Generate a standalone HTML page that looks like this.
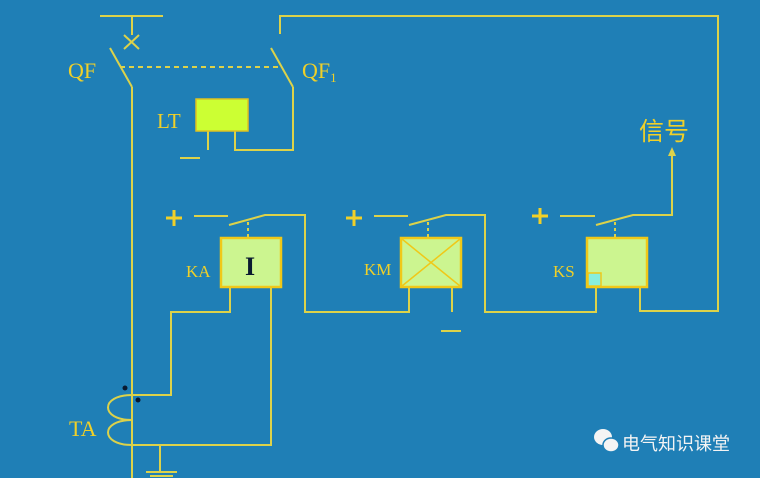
<!DOCTYPE html>
<html><head><meta charset="utf-8"><style>
html,body{margin:0;padding:0;background:#1f7fb6;}
svg{display:block}
</style></head><body>
<svg width="760" height="478" viewBox="0 0 760 478" xmlns="http://www.w3.org/2000/svg">
<rect width="760" height="478" fill="#1f7fb6"/>
<g stroke="#dcd24a" stroke-width="2" fill="none">
<line x1="100" y1="16" x2="163" y2="16"/>
<line x1="132" y1="16" x2="132" y2="35"/>
<line x1="124" y1="35" x2="139" y2="49"/><line x1="139" y1="35" x2="124" y2="49"/>
<line x1="110" y1="48" x2="132" y2="87"/>
<line x1="132" y1="87" x2="132" y2="478"/>
<line x1="120" y1="67" x2="282" y2="67" stroke-dasharray="5,4"/>
<polyline points="280,34 280,16 718,16 718,311 640,311 640,287"/>
<line x1="271" y1="48" x2="293" y2="87"/>
<polyline points="293,87 293,150 235,150 235,131"/>
<line x1="208" y1="131" x2="208" y2="150"/>
<line x1="180" y1="158" x2="200" y2="158"/>
<line x1="194" y1="216" x2="228" y2="216"/>
<polyline points="229,225 265,215 305,215 305,312 409,312 409,287"/>
<line x1="248" y1="222" x2="248" y2="238" stroke-dasharray="3,3"/>
<polyline points="230,287 230,312 171,312 171,395 132,395"/>
<polyline points="271,287 271,445 132,445"/>
<line x1="374" y1="216" x2="408" y2="216"/>
<polyline points="409,225 446,215 485,215 485,312 596,312 596,287"/>
<line x1="428" y1="222" x2="428" y2="238" stroke-dasharray="3,3"/>
<line x1="452" y1="287" x2="452" y2="312"/>
<line x1="441" y1="331" x2="461" y2="331"/>
<line x1="560" y1="216" x2="595" y2="216"/>
<polyline points="596,225 633,215 672,215 672,155"/>
<line x1="615" y1="222" x2="615" y2="238" stroke-dasharray="3,3"/>
<path d="M132,395 C100,395 100,420 132,420 C100,420 100,445 132,445"/>
<line x1="160" y1="445" x2="160" y2="472"/>
<line x1="146" y1="472" x2="177" y2="472"/>
<line x1="150" y1="476" x2="173" y2="476"/>
</g>
<g stroke="#f0d028" stroke-width="3">
<line x1="166" y1="218" x2="182" y2="218"/><line x1="174" y1="210" x2="174" y2="226"/>
<line x1="346" y1="218" x2="362" y2="218"/><line x1="354" y1="210" x2="354" y2="226"/>
<line x1="532" y1="216" x2="548" y2="216"/><line x1="540" y1="208" x2="540" y2="224"/>
</g>
<polygon points="672,147 668,156 676,156" fill="#dcd24a"/>
<circle cx="125" cy="388" r="2.5" fill="#0a1a30"/>
<circle cx="138" cy="400" r="2.5" fill="#0a1a30"/>
<rect x="196" y="99" width="52" height="32" fill="#ccff33" stroke="#e0c020" stroke-width="1.5"/>
<rect x="221" y="238" width="60" height="49" fill="#ccf590" stroke="#f0c818" stroke-width="2.5"/>
<rect x="401" y="238" width="60" height="49" fill="#ccf590" stroke="#f0c818" stroke-width="2.5"/>
<line x1="402" y1="239" x2="460" y2="286" stroke="#f0c818" stroke-width="1.5"/>
<line x1="460" y1="239" x2="402" y2="286" stroke="#f0c818" stroke-width="1.5"/>
<rect x="587" y="238" width="60" height="49" fill="#ccf590" stroke="#f0c818" stroke-width="2.5"/>
<rect x="588" y="273" width="13" height="13" fill="#88eedd" stroke="#f0c818" stroke-width="1.5"/>
<text x="250" y="275" font-family="Liberation Serif, serif" font-weight="bold" font-size="26" fill="#0a1a30" text-anchor="middle">I</text>
<g font-family="Liberation Serif, serif" fill="#f0d028">
<text x="68" y="78" font-size="22">QF</text>
<text x="302" y="78" font-size="22">QF<tspan font-size="13" dy="4">1</tspan></text>
<text x="157" y="128" font-size="21">LT</text>
<text x="186" y="277" font-size="17">KA</text>
<text x="364" y="275" font-size="17">KM</text>
<text x="553" y="277" font-size="17">KS</text>
<text x="69" y="436" font-size="22">TA</text>
</g>
<text x="639" y="140" font-family="Liberation Sans, Noto Sans CJK SC, sans-serif" font-size="25" fill="#f0d028">信号</text>
<ellipse cx="603" cy="437" rx="9" ry="8" fill="#f4f4f4"/>
<ellipse cx="611" cy="445" rx="8" ry="7" fill="#f4f4f4" stroke="#1f7fb6" stroke-width="1.5"/>
<text x="622" y="450" font-family="Liberation Sans, Noto Sans CJK SC, sans-serif" font-size="18" fill="#f4f4f4">电气知识课堂</text>
</svg>
</body></html>
